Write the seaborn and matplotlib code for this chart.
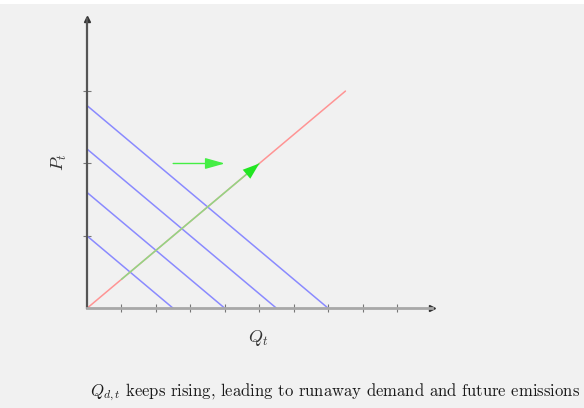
import numpy as np
import pandas as pd
import seaborn as sns
import matplotlib.pyplot as plt
from matplotlib.patches import Rectangle

# demand curves P = a - 0.4 Q
demand_p_start = [1.0, 1.6, 2.2, 2.8]
demand_q_end = [2.5, 4.0, 5.5, 7.0]

# supply line P = 0.4 Q
supply_q = [0.0, 7.5]
supply_p = [0.0, 3.0]

# green path of equilibria along supply, and the demand-shift arrow
path_q = [1.0, 5.0]
path_p = [0.4, 2.0]
shift_q = [2.5, 4.0]
shift_p = [2.0, 2.0]

x_ticks = [1, 2, 3, 4, 5, 6, 7, 8, 9]
y_ticks = [1, 2, 3]

caption = r"$Q_{d,t}$ keeps rising, leading to runaway demand and future emissions"

bg = '#f1f1f1'
sns.set_theme(style='white', rc={'figure.facecolor': bg, 'axes.facecolor': bg})
plt.rcParams['font.family'] = 'serif'
plt.rcParams['font.serif'] = ['cmr10', 'DejaVu Serif']
plt.rcParams['mathtext.fontset'] = 'cm'
plt.rcParams['axes.formatter.use_mathtext'] = True

fig = plt.figure(figsize=(5.84, 4.08), dpi=100)
ax = fig.add_axes([0.149, 0.2444, 0.590, 0.7098])

# demand lines
rows = []
for i, (p0, q1) in enumerate(zip(demand_p_start, demand_q_end)):
    rows.append({'curve': i, 'Q': 0.0, 'P': p0})
    rows.append({'curve': i, 'Q': q1, 'P': 0.0})
demand = pd.DataFrame(rows)
sns.lineplot(data=demand, x='Q', y='P', units='curve', estimator=None,
             color='#8a8aff', linewidth=1.1, ax=ax, legend=False)

sns.lineplot(x=supply_q, y=supply_p, color='#ff9494', linewidth=1.1, ax=ax)
sns.lineplot(x=path_q, y=path_p, color='#8fd884', linewidth=1.1, ax=ax)

# arrow heads
ax.annotate('', xy=(path_q[1], path_p[1]), xytext=(path_q[1] - 0.45, path_p[1] - 0.18),
            arrowprops=dict(arrowstyle='-|>,head_length=1.0,head_width=0.35',
                            color='#22e622', lw=0.01, shrinkA=0, shrinkB=0))
ax.annotate('', xy=(shift_q[1], shift_p[1]), xytext=(shift_q[0], shift_p[0]),
            arrowprops=dict(arrowstyle='-|>,head_length=1.0,head_width=0.28',
                            color='#44ee44', lw=1.0, shrinkA=0, shrinkB=0))

ax.set_xlim(0, 10)
ax.set_ylim(0, 4)
ax.set_xticks(x_ticks)
ax.set_yticks(y_ticks)
ax.set_xticklabels([])
ax.set_yticklabels([])
ax.tick_params(axis='both', direction='inout', length=6, width=0.8, colors='#777777',
               bottom=True, left=True)
sns.despine(ax=ax)
ax.spines['bottom'].set_color('#a8a8a8')
ax.spines['bottom'].set_linewidth(2.0)
ax.spines['left'].set_color('#555555')
ax.spines['left'].set_linewidth(1.6)

# axis arrow heads
ax.plot(1, 0, '>', color='#333333', markersize=4, transform=ax.get_yaxis_transform(), clip_on=False)
ax.plot(0, 1, '^', color='#333333', markersize=4, transform=ax.get_xaxis_transform(), clip_on=False)

ax.set_xlabel('')
ax.set_ylabel('')
fig.text(258 / 584, 1 - 338 / 408, r'$Q_t$', fontsize=13, ha='center', va='center', color='#333333')
fig.text(59 / 584, 1 - 162 / 408, r'$P_t$', fontsize=13, ha='center', va='center',
         rotation=90, color='#333333')
fig.text(90 / 584, 1 - 392 / 408, caption, fontsize=12, ha='left', va='center', color='#1a1a1a')

# thin white strip at the top edge
fig.patches.append(Rectangle((0, 1 - 4 / 408), 1, 4 / 408, transform=fig.transFigure,
                             facecolor='white', edgecolor='none'))

fig.savefig('out.png', dpi=100, facecolor=bg)
